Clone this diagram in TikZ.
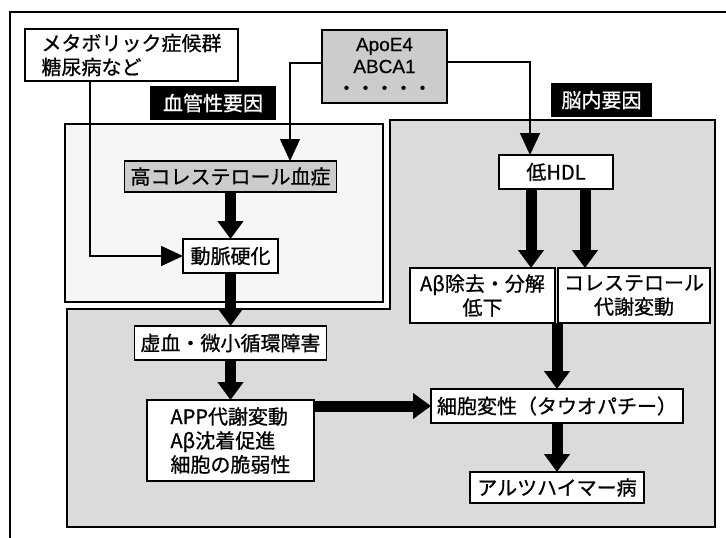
\documentclass[tikz,border=0pt]{standalone}
\usepackage{fontspec}
\setmainfont{Noto Sans CJK JP}[FakeBold=0.8]
\newfontfamily\lat{Liberation Sans}[FakeBold=0.5]
\usetikzlibrary{arrows.meta}
\definecolor{regiongray}{gray}{0.86}
\definecolor{boxgray}{gray}{0.80}
\definecolor{vasgray}{gray}{0.965}
\tikzset{
  box/.style={draw=black, line width=1.5pt, fill=white, inner sep=0pt, outer sep=0pt,
    font=\fontsize{20}{24}\selectfont, align=center},
  greybox/.style={box, fill=boxgray},
  tagbox/.style={fill=black, text=white, inner sep=0pt, outer sep=0pt,
    font=\fontsize{20}{24}\selectfont},
  linkarrow/.style={line width=1.5pt, -{Triangle[length=22pt,width=20pt]}},
  bigarrow/.style={line width=11pt, -{Triangle[length=18pt,width=25pt]}},
  region/.style={draw=black, line width=1.5pt}
}
\begin{document}
\begin{tikzpicture}[x=1pt,y=-1pt]
\useasboundingbox (0,0) rectangle (726,538);
% outer frame
\draw[line width=1.2pt] (10,538) -- (10,12) -- (726,12);
% regions
\draw[region, fill=regiongray] (67,309) -- (390,309) -- (390,120) -- (715,120) -- (715,527) -- (67,527) -- cycle;
\draw[region, fill=vasgray] (65,124) rectangle (383,302);
% tags
\node[tagbox, minimum width=126pt, minimum height=34pt] (tag1) at (213,103) {血管性要因};
\node[tagbox, minimum width=101pt, minimum height=34pt] (tag2) at (601.5,100) {脳内要因};
% nodes
\node[box, align=left, minimum width=213pt, minimum height=52pt] (meta) at (131.5,55) {メタボリック症候群\\糖尿病など};
\node[greybox, minimum width=125pt, minimum height=73pt, font=\fontsize{19}{22}\selectfont] (apoe) at (384.5,66.5) {{\lat ApoE4}\\{\lat ABCA1}\\・・・・・};
\node[greybox, minimum width=212pt, minimum height=31pt] (hichol) at (230.5,176.5) {高コレステロール血症};
\node[box, minimum width=95pt, minimum height=34pt] (douma) at (230.5,256) {動脈硬化};
\node[box, minimum width=192pt, minimum height=34pt] (kyoketsu) at (230.5,343) {虚血・微小循環障害};
\node[box, align=left, minimum width=167pt, minimum height=81pt] (app) at (230.5,440.5) {APP代謝変動\\Aβ沈着促進\\細胞の脆弱性};
\node[box, minimum width=114pt, minimum height=34pt] (lowhdl) at (556,172) {低HDL};
\node[box, minimum width=145pt, minimum height=55pt] (abeta) at (482.5,295.5) {Aβ除去・分解\\低下};
\node[box, minimum width=152pt, minimum height=55pt] (cholmeta) at (634,295.5) {コレステロール\\代謝変動};
\node[box, minimum width=252pt, minimum height=34pt] (saibou) at (557,406) {細胞変性（タウオパチー）};
\node[box, minimum width=174pt, minimum height=31pt] (alz) at (557,487.5) {アルツハイマー病};
% thin connectors
\coordinate (mx) at (90,0);
\draw[linkarrow] (meta.south -| mx) |- (douma.west);
\draw[linkarrow] ([yshift=3.5pt]apoe.west) -| ([xshift=59.5pt]hichol.north);
\draw[linkarrow] ([yshift=4.5pt]apoe.east) -| ([xshift=-26pt]lowhdl.north);
% thick arrows
\draw[bigarrow] (hichol.south) -- (douma.north);
\draw[bigarrow] (douma.south) -- (kyoketsu.north);
\draw[bigarrow] (kyoketsu.south) -- (app.north);
\draw[bigarrow] (app.east |- saibou.west) -- (saibou.west);
\draw[bigarrow] ([xshift=-25pt]lowhdl.south) -- ([xshift=-25pt]lowhdl.south |- abeta.north);
\draw[bigarrow] ([xshift=29pt]lowhdl.south) -- ([xshift=29pt]lowhdl.south |- cholmeta.north);
\draw[bigarrow] (saibou.north |- abeta.south) -- (saibou.north);
\draw[bigarrow] (saibou.south) -- (alz.north);
\end{tikzpicture}
\end{document}
